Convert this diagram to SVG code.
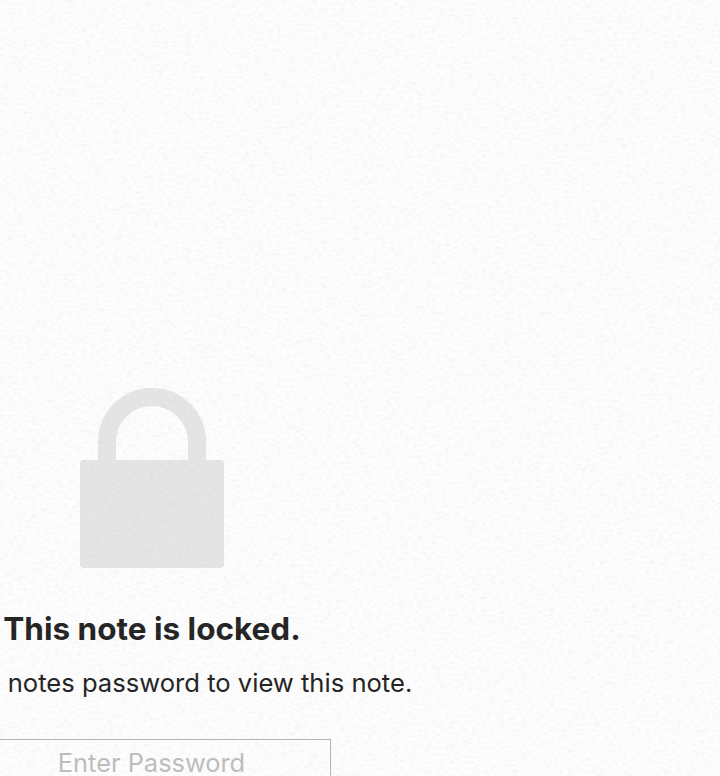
<svg xmlns="http://www.w3.org/2000/svg" width="720" height="776" viewBox="0 0 720 776">
<style>
text{font-family:"Inter","Liberation Sans",sans-serif;text-anchor:middle}
.lock{fill:#e5e5e5}
.title{font-size:31.500px;font-weight:700;fill:#222222}
.sub{font-size:25.600px;font-weight:400;fill:#222222}
.hint{font-size:25.400px;font-weight:400;fill:#bdbdbd}
</style>
<defs>
<filter id="paper" x="0" y="0" width="100%" height="100%">
<feTurbulence type="fractalNoise" baseFrequency="0.22 0.34" numOctaves="3" seed="4" result="n"/>
<feColorMatrix in="n" type="matrix" values="0 0 0 0 0.46  0 0 0 0 0.46  0 0 0 0 0.46  0.14 0.14 0.14 0 -0.19"/>
</filter>
</defs>
<rect id="background" width="720" height="776" fill="#fdfdfd"/>
<g id="padlock">
<path d="M107 462V442a45 45 0 0 1 90 0V462" fill="none" stroke="#e5e5e5" stroke-width="18"/>
<rect class="lock" x="80" y="460" width="144" height="108" rx="4"/>
</g>
<g id="message">
<text class="title" x="152" y="639.500">This note is locked.</text>
<text class="sub" x="210" y="691.500">notes password to view this note.</text>
</g>
<g id="password-field">
<rect x="-20" y="739.500" width="350.500" height="60" fill="none" stroke="#b4b4b4" stroke-width="1"/>
<text class="hint" x="151.500" y="772">Enter Password</text>
</g>
<rect id="paper-texture" width="720" height="776" filter="url(#paper)"/>
</svg>
